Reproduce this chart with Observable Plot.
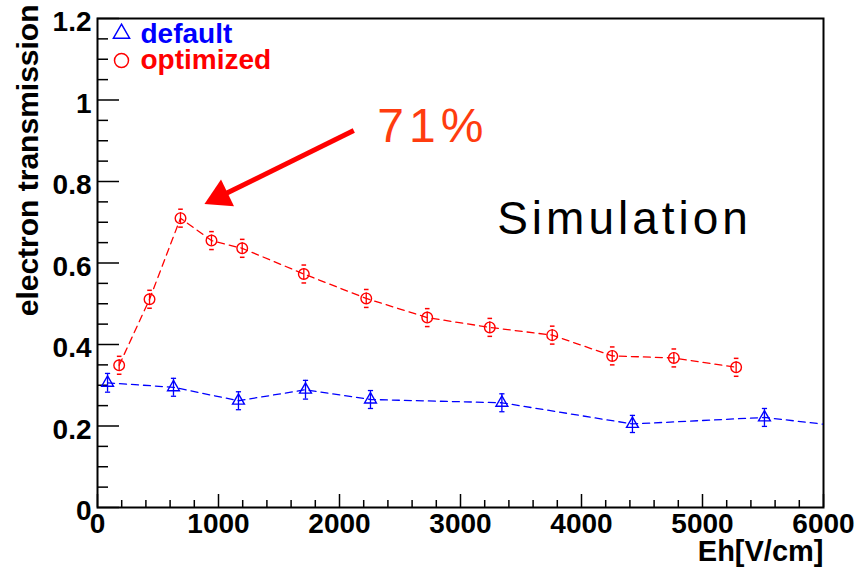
<!DOCTYPE html>
<html><head><meta charset="utf-8">
<script src="https://cdn.jsdelivr.net/npm/d3@7"></script>
<script src="https://cdn.jsdelivr.net/npm/@observablehq/plot@0.6"></script>
<style>body{margin:0;background:#fff} svg{display:block}</style>
</head><body><div id="chart"></div>
<script>
// ---- data ----
const defaultE   = [83, 628, 1165, 1719, 2256, 3342, 4421, 5512, 6600];
const defaultT   = [0.306, 0.295, 0.262, 0.289, 0.265, 0.257, 0.205, 0.221, 0.184];
const defaultErr = [0.023, 0.022, 0.022, 0.023, 0.022, 0.022, 0.021, 0.022, 0.022];
const optimizedE   = [179, 430, 686, 942, 1196, 1705, 2221, 2725, 3242, 3758, 4254, 4763, 5278];
const optimizedT   = [0.349, 0.511, 0.710, 0.655, 0.636, 0.573, 0.513, 0.466, 0.442, 0.423, 0.372, 0.367, 0.344];
const optimizedErr = [0.022, 0.022, 0.022, 0.022, 0.022, 0.022, 0.022, 0.022, 0.022, 0.022, 0.022, 0.022, 0.022];
const seriesNames = ["default", "optimized"];
const xMajor = [0, 1000, 2000, 3000, 4000, 5000, 6000];
const xMinor = [200, 400, 600, 800, 1200, 1400, 1600, 1800, 2200, 2400, 2600, 2800, 3200, 3400, 3600, 3800, 4200, 4400, 4600, 4800, 5200, 5400, 5600, 5800];
const yMajor = [0, 0.2, 0.4, 0.6, 0.8, 1.0, 1.2];
const yMinor = [0.05, 0.1, 0.15, 0.25, 0.3, 0.35, 0.45, 0.5, 0.55, 0.65, 0.7, 0.75, 0.85, 0.9, 0.95, 1.05, 1.1, 1.15];
const xTitle = "Eh[V/cm]";
const yTitle = "electron transmission";
const note1 = "71%";
const note2 = "Simulation";

const blue = "#0000ff", red = "#ff0000";
const def = defaultE.map((e, i) => ({e, t: defaultT[i], err: defaultErr[i]}));
const opt = optimizedE.map((e, i) => ({e, t: optimizedT[i], err: optimizedErr[i]}));
const peak = opt.reduce((a, b) => (b.t > a.t ? b : a));

const W = 857, H = 568, mL = 97, mR = 34, mT = 18, mB = 61;
const fw = W - mL - mR, fh = H - mT - mB;
const cap = {draw(ctx, size) { const w = Math.sqrt(size / Math.PI); ctx.moveTo(-w, 0); ctx.lineTo(w, 0); }};
const font = "'Liberation Sans', Arial, Helvetica, sans-serif";

const plot = Plot.plot({
  width: W, height: H,
  marginLeft: mL, marginRight: mR, marginTop: mT, marginBottom: mB,
  style: {fontFamily: font, background: "#fff", color: "#000"},
  x: {domain: [0, 6000]},
  y: {domain: [0, 1.2]},
  marks: [
    // ticks inside the frame (ROOT style)
    Plot.tickY(yMajor, {y: d => d, insetRight: fw - 22, stroke: "#000", strokeWidth: 1.5}),
    Plot.tickY(yMinor, {y: d => d, insetRight: fw - 11, stroke: "#000", strokeWidth: 1.5}),
    Plot.tickX(xMajor, {x: d => d, insetTop: fh - 13, stroke: "#000", strokeWidth: 1.5}),
    Plot.tickX(xMinor, {x: d => d, insetTop: fh - 7, stroke: "#000", strokeWidth: 1.5}),
    Plot.axisY(yMajor, {anchor: "left", tickSize: 0, tickPadding: 6, dy: 4, label: null,
      tickFormat: d => String(+d.toFixed(1)), fontSize: 28, fontWeight: "bold"}),
    Plot.axisX(xMajor, {anchor: "bottom", tickSize: 0, tickPadding: 6, label: null,
      tickFormat: d => String(d), fontSize: 28, fontWeight: "bold"}),
    Plot.frame({stroke: "#000", strokeWidth: 2}),

    // default series (blue)
    Plot.line(def, {x: "e", y: "t", stroke: blue, strokeWidth: 1.3, strokeDasharray: "7,5", clip: true}),
    Plot.ruleX(def, {x: "e", y1: d => d.t - d.err, y2: d => d.t + d.err, stroke: blue, strokeWidth: 1.3, clip: true}),
    Plot.dot(def, {x: "e", y: d => d.t + d.err, symbol: cap, r: 2.6, stroke: blue, fill: "none", strokeWidth: 1.3, clip: true}),
    Plot.dot(def, {x: "e", y: d => d.t - d.err, symbol: cap, r: 2.6, stroke: blue, fill: "none", strokeWidth: 1.3, clip: true}),
    Plot.dot(def, {x: "e", y: "t", symbol: "triangle", r: 4.4, stroke: blue, fill: "none", strokeWidth: 1.4, clip: true}),

    // optimized series (red)
    Plot.line(opt, {x: "e", y: "t", stroke: red, strokeWidth: 1.3, strokeDasharray: "7,5"}),
    Plot.ruleX(opt, {x: "e", y1: d => d.t - d.err, y2: d => d.t + d.err, stroke: red, strokeWidth: 1.3, strokeDasharray: "0,3.5,11,100"}),
    Plot.dot(opt, {x: "e", y: d => d.t + d.err, symbol: cap, r: 2.3, stroke: red, fill: "none", strokeWidth: 1.5}),
    Plot.dot(opt, {x: "e", y: d => d.t - d.err, symbol: cap, r: 2.3, stroke: red, fill: "none", strokeWidth: 1.5}),
    Plot.dot(opt, {x: "e", y: "t", symbol: "circle", r: 5.3, stroke: red, fill: "none", strokeWidth: 1.4}),

    // arrow pointing at the peak
    Plot.link([peak], {x1: 2118, y1: 0.925, x2: 1011, y2: 0.763, stroke: red, strokeWidth: 5}),
    Plot.dot([peak], {x: () => 1011, y: () => 0.763, symbol: "triangle", r: 11, rotate: 244, fill: red, stroke: "none"}),
    Plot.text([note1], {x: () => 2312, y: () => 0.898, text: d => d, textAnchor: "start", lineAnchor: "bottom", fontSize: 48, fill: "#ff3c0f"}),
    Plot.text([note2], {x: () => 3303, y: () => 0.671, text: d => d, textAnchor: "start", lineAnchor: "bottom", fontSize: 46, fill: "#000"}),

    // legend
    Plot.dot([seriesNames[0]], {x: null, y: null, frameAnchor: "top-left", dx: 24, dy: 15, symbol: "triangle", r: 6, stroke: blue, fill: "none", strokeWidth: 1.5}),
    Plot.dot([seriesNames[1]], {x: null, y: null, frameAnchor: "top-left", dx: 24, dy: 42, symbol: "circle", r: 7, stroke: red, fill: "none", strokeWidth: 1.5}),
    Plot.text([seriesNames[0]], {x: null, y: null, frameAnchor: "top-left", dx: 43, dy: 24.5, text: d => d, textAnchor: "start", lineAnchor: "bottom", fontSize: 28, fontWeight: "bold", fill: blue}),
    Plot.text([seriesNames[1]], {x: null, y: null, frameAnchor: "top-left", dx: 43, dy: 50, text: d => d, textAnchor: "start", lineAnchor: "bottom", fontSize: 28, fontWeight: "bold", fill: red}),

    // axis titles
    Plot.text([yTitle], {x: null, y: null, frameAnchor: "top-left", dx: -60, dy: -14, rotate: -90, text: d => d, textAnchor: "end", lineAnchor: "bottom", fontSize: 30, fontWeight: "bold"}),
    Plot.text([xTitle], {x: null, y: null, frameAnchor: "bottom-right", dx: 0, dy: 53, text: d => d, textAnchor: "end", lineAnchor: "bottom", fontSize: 29, fontWeight: "bold"})
  ]
});
plot.querySelectorAll("text").forEach(t => {
  if (t.textContent === note2) t.setAttribute("letter-spacing", "4");
  if (t.textContent === note1) t.setAttribute("letter-spacing", "5");
});
document.getElementById("chart").appendChild(plot);
</script>
</body></html>
